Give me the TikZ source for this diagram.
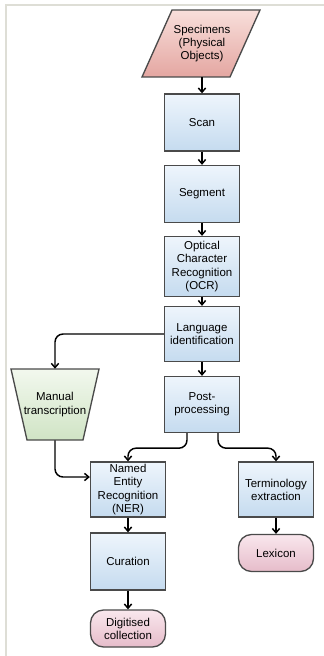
\documentclass[tikz,border=0pt]{standalone}
\usepackage{fontspec}
\setmainfont{Liberation Sans}
\usetikzlibrary{arrows.meta}
\definecolor{bordergray}{HTML}{4A4A4A}
\definecolor{boxtop}{HTML}{EEF5FC}
\definecolor{boxbot}{HTML}{C5DBEF}
\definecolor{spectop}{HTML}{F8DFDB}
\definecolor{specbot}{HTML}{E4A6A1}
\definecolor{mantop}{HTML}{F2F8EE}
\definecolor{manbot}{HTML}{D0E4C5}
\definecolor{termtop}{HTML}{F9E7ED}
\definecolor{termbot}{HTML}{E6BCCA}
\definecolor{framegray}{HTML}{DEDED6}
\tikzset{
  lbl/.style={align=center, inner sep=0pt, font=\fontsize{8.6}{9.8}\selectfont},
  procbox/.style={lbl, draw=bordergray, line width=1pt, top color=boxtop, bottom color=boxbot,
    minimum width=75*0.75pt, minimum height=57*0.75pt},
  termbox/.style={lbl, draw=bordergray, line width=1pt, top color=termtop, bottom color=termbot,
    minimum width=75*0.75pt, minimum height=37*0.75pt, rounded corners=13*0.75pt},
  shapeline/.style={draw=bordergray, line width=1pt},
  conn/.style={line width=1.1pt, black, rounded corners=6pt, -{Straight Barb[length=3.2pt,width=5.5pt]}}
}
\begin{document}
\begin{tikzpicture}[x=0.75pt,y=-0.75pt]
\useasboundingbox (0,0) rectangle (324,656);
% frame remnants
\draw[framegray, line width=1.2pt] (6,656) -- (6,5) -- (324,5);
% specimens parallelogram
\path[shapeline, top color=spectop, bottom color=specbot] (142,77) -- (172,10) -- (260,10) -- (230,77) -- cycle;
\node[lbl, minimum width=60*0.75pt, minimum height=67*0.75pt] (spec) at (202,43.5) {Specimens\\(Physical\\Objects)};
% process boxes
\node[procbox] (scan) at (202,122.5) {Scan};
\node[procbox] (seg) at (202,194) {Segment};
\node[procbox, minimum height=60*0.75pt] (ocr) at (202,266.5) {Optical\\Character\\Recognition\\(OCR)};
\node[procbox, minimum height=55*0.75pt] (lang) at (202,334) {Language\\identification};
\node[procbox, minimum height=56*0.75pt] (post) at (202,404.5) {Post-\\processing};
% manual transcription trapezoid
\path[shapeline, top color=mantop, bottom color=manbot] (11,369) -- (99,369) -- (83,440) -- (27,440) -- cycle;
\node[lbl, minimum width=60*0.75pt, minimum height=71*0.75pt] (man) at (55,404.5) {Manual\\transcription};
\node[procbox, minimum height=55*0.75pt] (ner) at (128,489.5) {Named\\Entity\\Recognition\\(NER)};
\node[procbox, minimum height=55*0.75pt] (term) at (276,489.5) {Terminology\\extraction};
\node[procbox] (cur) at (128,561.5) {Curation};
\node[termbox] (lex) at (276,553) {Lexicon};
\node[termbox] (dig) at (128,628.5) {Digitised\\collection};
% connectors
\draw[conn] (spec.south) -- (scan.north);
\draw[conn] (scan.south) -- (seg.north);
\draw[conn] (seg.south) -- (ocr.north);
\draw[conn] (ocr.south) -- (lang.north);
\draw[conn] (lang.south) -- (post.north);
\draw[conn] (lang.west) -| (man.north);
\draw[conn] ([xshift=-15*0.75pt]post.south) -- ++(0,15) -| (ner.north);
\draw[conn] ([xshift=16*0.75pt]post.south) -- ++(0,15) -| (term.north);
\draw[conn] (man.south) |- ([yshift=12.5*0.75pt]ner.west);
\draw[conn] (ner.south) -- (cur.north);
\draw[conn] (cur.south) -- (dig.north);
\draw[conn] (term.south) -- (lex.north);
\end{tikzpicture}
\end{document}
